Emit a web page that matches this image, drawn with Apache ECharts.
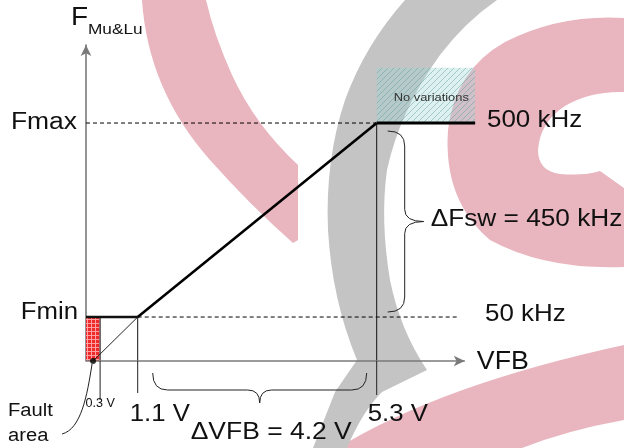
<!DOCTYPE html>
<html><head><meta charset="utf-8">
<script src="https://cdn.jsdelivr.net/npm/echarts@6/dist/echarts.min.js"></script>
<style>html,body{margin:0;padding:0;background:#fff}#c{width:624px;height:448px}</style>
</head><body><div id="c"></div>
<script>
// ---------- data ----------
const vfbTicks = [0.3, 1.1, 5.3];                 // V
const vfbTickLabels = ['0.3 V', '1.1 V', '5.3 V'];
const freqLevels = [50, 500];                     // Fmin, Fmax (kHz)
const freqLevelNames = ['Fmin', 'Fmax'];
const freqLevelLabels = ['50 kHz', '500 kHz'];
const rampV = [1.1, 5.3];
const rampF = [50, 500];
const faultV = 0.15;
const fminDashEndV = 6.71;
const fmaxLineEndV = 7.03;
const noVarTopF = 628;
const deltaVfbLabel = 'ΔVFB = 4.2 V';
const deltaFswLabel = 'ΔFsw = 450 kHz';

// axis ranges (schematic drawing, two x scales)
const lowAxis = {min: 0, max: 8.298};
const xArrowEndV = 8.06;
const mainAxis = {min: 0.1915, max: 7.045};
const fAxis = {min: -52, max: 681};

const FONT = "'Liberation Sans', Arial, sans-serif";

function pattern(w, h, draw) {
  const c = document.createElement('canvas'); c.width = w; c.height = h;
  draw(c.getContext('2d')); return {image: c, repeat: 'repeat'};
}
const redGrid = pattern(4, 4, g => {
  g.fillStyle = '#f02a2a'; g.fillRect(0, 0, 4, 4);
  g.fillStyle = 'rgba(255,165,165,0.95)'; g.fillRect(3, 0, 1, 4); g.fillRect(0, 3, 4, 1);
});
const hatch = pattern(6, 6, g => {
  g.fillStyle = 'rgba(160,215,215,0.35)'; g.fillRect(0, 0, 6, 6);
  g.strokeStyle = 'rgba(90,150,160,0.45)'; g.lineWidth = 1;
  g.beginPath(); g.moveTo(0, 6); g.lineTo(6, 0); g.moveTo(-1, 1); g.lineTo(1, -1); g.moveTo(5, 7); g.lineTo(7, 5); g.stroke();
});

const chart = echarts.init(document.getElementById('c'), null, {renderer: 'canvas'});

function lineSeries(xi, data, style, extra) {
  return Object.assign({
    type: 'line', xAxisIndex: xi, yAxisIndex: 0, data: data, symbol: 'none',
    silent: true, animation: false, lineStyle: style, z: 4
  }, extra || {});
}

const series = [
  // x axis line with arrow + fault area (low-voltage scale)
  lineSeries(0, [[lowAxis.min, freqLevels[0]], [rampV[0], freqLevels[0]]], {color: '#111', width: 2.5}, {
    markArea: {silent: true, itemStyle: {color: redGrid},
      data: [[{xAxis: lowAxis.min, yAxis: fAxis.min}, {xAxis: vfbTicks[0], yAxis: freqLevels[0]}]]},
    markLine: {silent: true, symbol: ['none', 'arrow'], symbolSize: [8, 11], label: {show: false},
      lineStyle: {color: '#7a7a7a', width: 1.6, type: 'solid'},
      data: [[{coord: [lowAxis.min, fAxis.min]}, {coord: [xArrowEndV, fAxis.min]}]]}
  }),
  lineSeries(0, [[faultV, fAxis.min], [rampV[0], freqLevels[0]]], {color: '#222', width: 1}),
  lineSeries(0, [[vfbTicks[0], freqLevels[0]], [vfbTicks[0], fAxis.min]], {color: '#111', width: 1}),
  lineSeries(0, [[vfbTicks[1], freqLevels[0]], [vfbTicks[1], fAxis.min]], {color: '#111', width: 1}),
  {type: 'scatter', xAxisIndex: 0, yAxisIndex: 0, data: [[faultV, fAxis.min]], symbolSize: 6,
   itemStyle: {color: '#000'}, silent: true, animation: false, clip: false, z: 6},
  // main scale
  lineSeries(1, [[rampV[0], rampF[0]], [rampV[1], rampF[1]]], {color: '#000', width: 2.6}),
  lineSeries(1, [[mainAxis.min, freqLevels[1]], [vfbTicks[2], freqLevels[1]]], {color: '#000', width: 1, type: [4, 3]}),
  lineSeries(1, [[rampV[0], freqLevels[0]], [fminDashEndV, freqLevels[0]]], {color: '#000', width: 1, type: [4, 3]}),
  lineSeries(1, [[vfbTicks[2], freqLevels[1]], [vfbTicks[2], fAxis.min]], {color: '#111', width: 1}),
  lineSeries(1, [[vfbTicks[2], freqLevels[1]], [fmaxLineEndV, freqLevels[1]]], {color: '#000', width: 3}, {
    markArea: {silent: true, itemStyle: {color: hatch},
      data: [[{xAxis: vfbTicks[2], yAxis: freqLevels[1]}, {xAxis: fmaxLineEndV, yAxis: noVarTopF}]]}
  })
];

const baseOption = {
  animation: false,
  backgroundColor: '#fff',
  grid: {left: 86, right: 148, top: 45, bottom: 87},
  xAxis: [
    {type: 'value', min: lowAxis.min, max: lowAxis.max, splitLine: {show: false},
     axisTick: {show: false}, axisLabel: {show: false}, axisLine: {show: false}},
    {type: 'value', min: mainAxis.min, max: mainAxis.max, show: false}
  ],
  yAxis: [
    {type: 'value', min: fAxis.min, max: fAxis.max, splitLine: {show: false},
     axisTick: {show: false}, axisLabel: {show: false},
     axisLine: {onZero: false, symbol: ['none', 'arrow'], symbolSize: [8, 11], lineStyle: {color: '#7a7a7a', width: 1.6}}}
  ],
  series: series
};
chart.setOption(baseOption);

// ---------- annotations anchored to the axes ----------
const P = (xi, v, f) => chart.convertToPixel({xAxisIndex: xi, yAxisIndex: 0}, [v, f]);
const axisY = P(0, 0, fAxis.min)[1];
const yFmin = P(0, 0, freqLevels[0])[1];
const yFmax = P(0, 0, freqLevels[1])[1];
const x03 = P(0, vfbTicks[0], 0)[0];
const x11 = P(0, vfbTicks[1], 0)[0];
const x53 = P(1, vfbTicks[2], 0)[0];
const xFault = P(0, faultV, 0)[0];
const xAxisEnd = P(0, xArrowEndV, 0)[0];
const xY = P(0, lowAxis.min, 0)[0];

const txt = (x, y, s, size, align, fill, sx) => ({
  type: 'text', x: x, y: y, z: 100, silent: true, scaleX: sx || 1.12,
  style: {text: s, font: size + 'px ' + FONT, fill: fill || '#111', textVerticalAlign: 'middle', textAlign: align || 'left'}
});

const PINK = '#e9b5bf', GRAY = '#c4c4c4';
const bgShapes = [
  {d: 'M142,0 Q148,90 210,160 Q250,205 293,243 L298,240 L298,165 Q255,125 232,75 Q214,35 206,0 Z', fill: PINK},
  {d: 'M624,18 Q560,14 505,42 Q455,70 448,130 Q443,200 490,240 Q545,270 624,267 Z', fill: PINK},
  {d: 'M624,92 Q590,91 565,106 Q540,122 538,150 Q538,171 560,174 Q585,176 600,171 L624,188 Z', fill: '#fff'},
  {d: 'M338,448 Q440,385 624,345 L624,420 Q568,430 522,448 Z', fill: PINK},
  {d: 'M405,0 Q365,45 345,100 Q325,160 328,230 Q332,300 357,360 L335,392 L313,448 L347,448 Q362,412 382,392 L427,370 Q400,330 390,280 Q380,220 387,170 Q400,110 440,55 Q465,22 497,0 Z', fill: GRAY}
];

const strokes = [];
strokes.push(`M${x03},${axisY} L${x03},${axisY + 39}`);
strokes.push(`M${x11},${axisY} L${x11},${axisY + 32}`);
strokes.push(`M${x53},${axisY} L${x53},${axisY + 34}`);
const texts = [];
{
  const xl = x11 + 15, xr = x53 - 10, yt = axisY + 12, yl = yt + 17, tip = yl + 13, mx = (xl + xr) / 2;
  strokes.push(`M${xl},${yt} Q${xl},${yl} ${xl + 15},${yl} L${mx - 12},${yl} Q${mx},${yl} ${mx},${tip} Q${mx},${yl} ${mx + 12},${yl} L${xr - 15},${yl} Q${xr},${yl} ${xr},${yt}`);
  texts.push(txt(mx - 69, axisY + 72, deltaVfbLabel, 23, 'left', '#111', 1.15));
}
{
  const x0 = x53 + 11, xs = x0 + 17, tipx = x0 + 36, top = yFmax + 8, bot = yFmin - 5, my = (top + bot) / 2;
  strokes.push(`M${x0},${top} Q${xs},${top} ${xs},${top + 15} L${xs},${my - 12} Q${xs},${my} ${tipx},${my} Q${xs},${my} ${xs},${my + 12} L${xs},${bot - 15} Q${xs},${bot} ${x0},${bot}`);
  texts.push(txt(tipx + 7, my - 2, deltaFswLabel, 23, 'left', '#111', 1.14));
}
strokes.push(`M${xFault - 1},${axisY + 3} C${xFault - 6},${axisY + 35} ${xFault - 12},${axisY + 68} ${xFault - 31},${axisY + 73}`);

texts.push(txt(71, 18, 'F', 25));
texts.push(txt(88, 30, 'Mu&Lu', 15, 'left', '#111', 1.15));
texts.push(txt(xY - 9, yFmax, freqLevelNames[1], 23, 'right', '#111', 1.15));
texts.push(txt(xY - 8, yFmin - 4, freqLevelNames[0], 23, 'right', '#111', 1.12));
texts.push(txt(487, yFmax - 3, freqLevelLabels[1], 24, 'left', '#111', 1.08));
texts.push(txt(485, yFmin - 3, freqLevelLabels[0], 24, 'left', '#111', 1.08));
texts.push(txt(xAxisEnd + 12, axisY + 1, 'VFB', 25, 'left', '#111', 1.07));
texts.push(txt(x53 + 17, yFmax - 25, 'No variations', 11.5, 'left', '#333', 1.12));
texts.push(txt(x03, axisY + 43, vfbTickLabels[0], 12, 'center', '#111', 1.05));
texts.push(txt(x11 - 8, axisY + 54, vfbTickLabels[1], 23, 'left', '#111', 1.12));
texts.push(txt(x53 - 9, axisY + 54, vfbTickLabels[2], 23, 'left', '#111', 1.12));
texts.push(txt(8, axisY + 50, 'Fault', 18));
texts.push(txt(8, axisY + 75, 'area', 18));

const extraSeries = series.slice();
extraSeries.push({
  type: 'custom', coordinateSystem: 'none', data: [0], silent: true, z: 0, animation: false,
  renderItem: () => ({type: 'group', children: bgShapes.map(s => ({
    type: 'path', shape: {pathData: s.d}, style: {fill: s.fill, stroke: null}}))})
});
extraSeries.push({
  type: 'custom', coordinateSystem: 'none', data: [0], silent: true, z: 5, animation: false,
  renderItem: () => ({type: 'group', children: strokes.map(d => ({
    type: 'path', shape: {pathData: d}, style: {fill: null, stroke: '#222', lineWidth: 1}}))})
});

chart.setOption({series: extraSeries, graphic: {elements: texts}});
</script>
</body></html>
